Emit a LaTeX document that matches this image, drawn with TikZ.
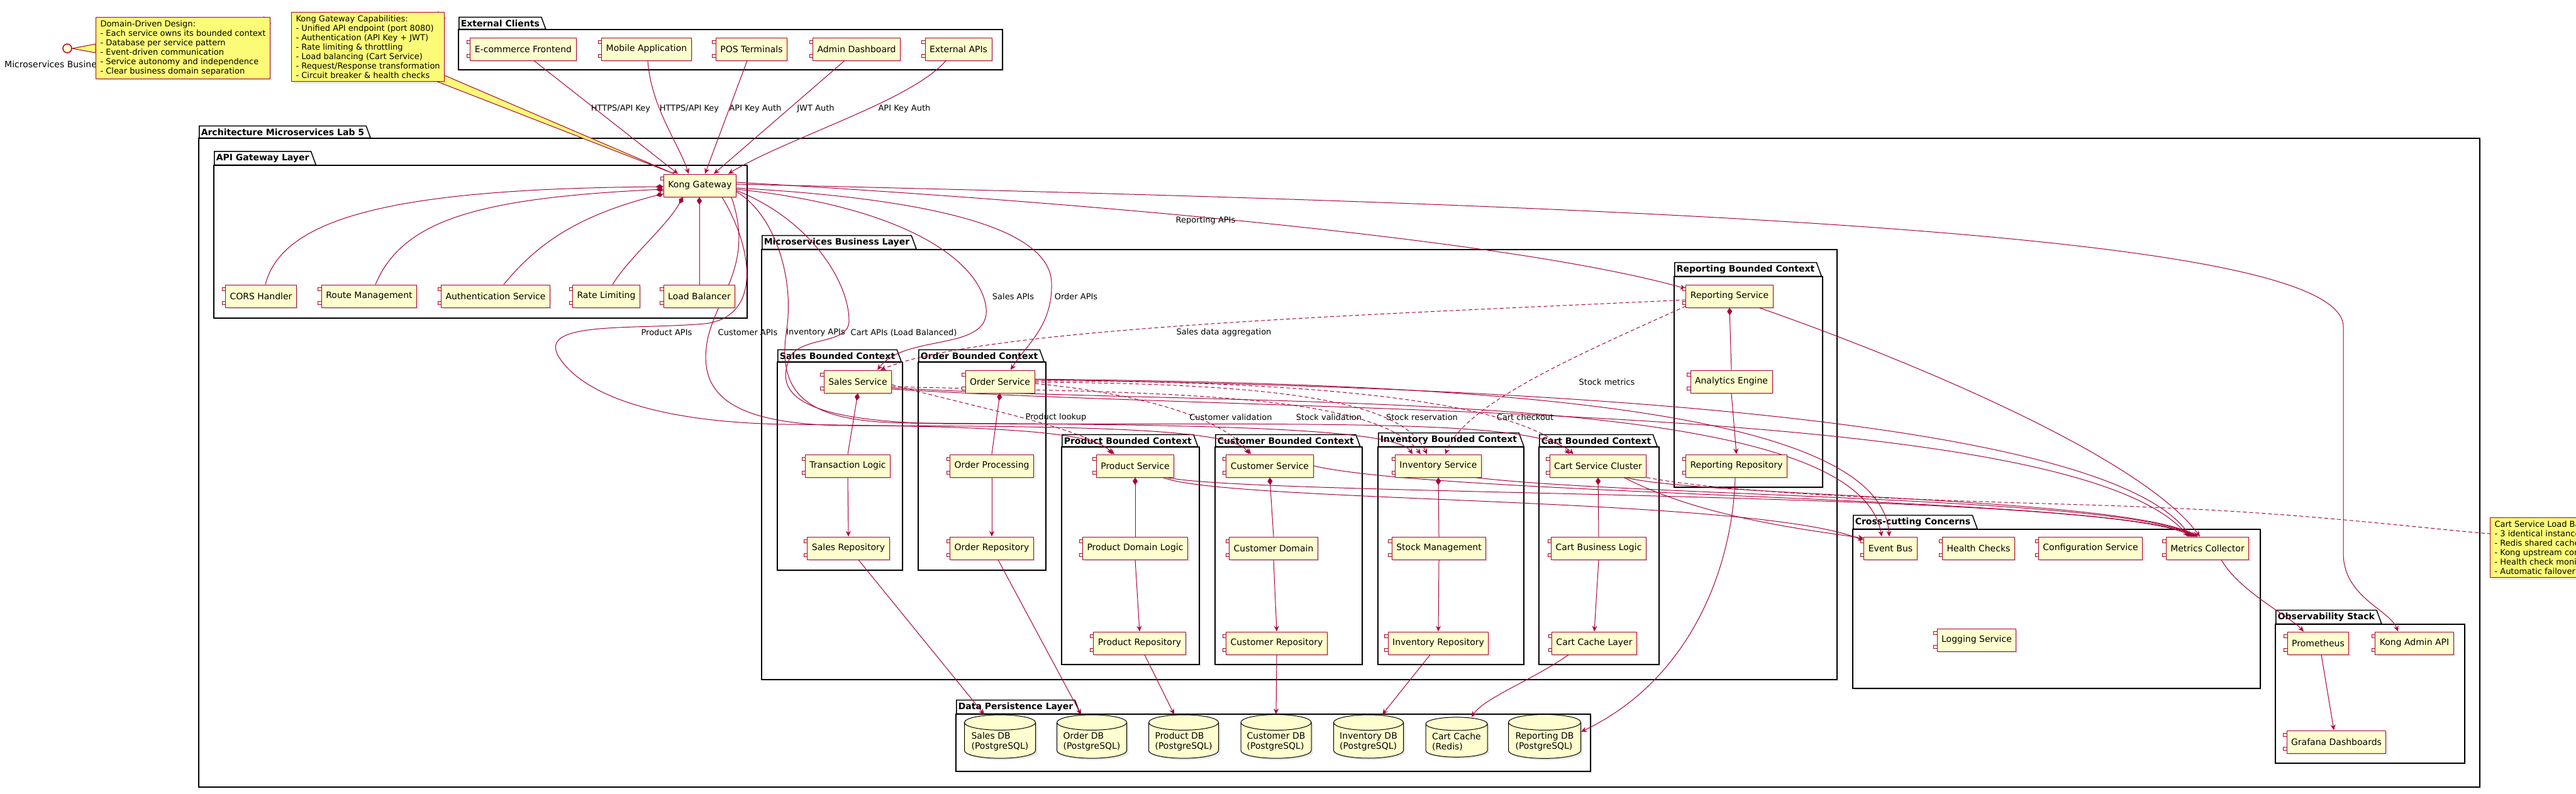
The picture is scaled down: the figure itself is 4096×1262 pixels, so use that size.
\documentclass[tikz,border=0pt]{standalone}
\usepackage{fontspec}
\setmainfont{DejaVu Sans}
\usetikzlibrary{arrows.meta,shapes.geometric,shadows}
\definecolor{umlred}{HTML}{A80036}
\definecolor{umlfill}{HTML}{FEFECE}
\definecolor{notefill}{HTML}{FBFB77}
\pgfdeclarelayer{pkglayer}
\pgfdeclarelayer{edgelayer}
\pgfsetlayers{pkglayer,edgelayer,main}

\begin{document}
\begin{tikzpicture}[x=1pt,y=-1pt]

		\tikzstyle{comp}=[draw=umlred,fill=umlfill,line width=1pt,minimum height=36pt,inner xsep=7pt,font=\fontsize{14pt}{16pt}\selectfont,drop shadow={shadow xshift=3pt,shadow yshift=-3pt,opacity=0.18},append after command={\pgfextra{\draw[draw=umlred,fill=umlfill,line width=0.8pt] ([xshift=-5pt,yshift=-5pt]\tikzlastnode.north west) rectangle ([xshift=5pt,yshift=-10pt]\tikzlastnode.north west) ([xshift=-5pt,yshift=5pt]\tikzlastnode.south west) rectangle ([xshift=5pt,yshift=10pt]\tikzlastnode.south west);}}]
		\tikzstyle{db}=[cylinder,shape border rotate=90,aspect=0.25,draw=black,fill=umlfill,line width=1pt,minimum height=61pt,align=left,font=\fontsize{14pt}{16pt}\selectfont,drop shadow={shadow xshift=3pt,shadow yshift=-3pt,opacity=0.18}]
		\tikzstyle{pkg}=[draw=black,fill=white,line width=1.5pt,drop shadow={shadow xshift=3pt,shadow yshift=-3pt,opacity=0.15}]
		\tikzstyle{pkgtab}=[trapezium,trapezium left angle=90,trapezium right angle=70,draw=black,fill=white,line width=1.5pt,inner xsep=3pt,inner ysep=4pt,anchor=bottom left corner,font=\fontsize{14pt}{16pt}\selectfont\bfseries]
		\tikzstyle{notebox}=[draw=umlred,fill=notefill,line width=1pt,align=left,inner xsep=7pt,inner ysep=5pt,anchor=north west,font=\fontsize{13pt}{15pt}\selectfont,drop shadow={shadow xshift=3pt,shadow yshift=-3pt,opacity=0.18},append after command={\pgfextra{\fill[white] ([xshift=-10pt,yshift=1pt]\tikzlastnode.north east) -- ([xshift=1pt,yshift=1pt]\tikzlastnode.north east) -- ([xshift=1pt,yshift=-10pt]\tikzlastnode.north east) -- cycle; \filldraw[fill=notefill,draw=umlred,line width=1pt] ([xshift=-10pt]\tikzlastnode.north east) -- ([xshift=-10pt,yshift=-10pt]\tikzlastnode.north east) -- ([yshift=-10pt]\tikzlastnode.north east) -- cycle;}}]
		\tikzstyle{lbl}=[inner sep=0pt,font=\fontsize{13pt}{15pt}\selectfont]
		\tikzstyle{flow}=[draw=umlred,line width=1pt,-{Stealth[length=9pt,width=8pt,inset=3pt]}]
		\tikzstyle{dep}=[flow,dash pattern=on 6pt off 4pt]
		\tikzstyle{owns}=[draw=umlred,line width=1pt,{Diamond[length=12pt,width=8pt]}-]
		\tikzstyle{noteline}=[draw=umlred,line width=1pt,dash pattern=on 6pt off 4pt]

		\useasboundingbox (0,0) rectangle (4096,1262);

		\begin{pgfonlayer}{pkglayer}
		\draw[pkg] (729,47) rectangle (1594,111);
		\node[pkgtab] (tclients) at (729,47) {External Clients};
		\draw[pkg] (316,220) rectangle (3943,1252);
		\node[pkgtab] (tarch) at (316,220) {Architecture Microservices Lab 5};
		\draw[pkg] (340,263) rectangle (1188,506);
		\node[pkgtab] (tgateway) at (340,263) {API Gateway Layer};
		\draw[pkg] (1211,397) rectangle (2921,1081);
		\node[pkgtab] (tbusiness) at (1211,397) {Microservices Business Layer};
		\draw[pkg] (1236,576) rectangle (1435,907);
		\node[pkgtab] (tsales) at (1236,576) {Sales Bounded Context};
		\draw[pkg] (1460,576) rectangle (1663,907);
		\node[pkgtab] (torder) at (1460,576) {Order Bounded Context};
		\draw[pkg] (1688,711) rectangle (1907,1057);
		\node[pkgtab] (tproduct) at (1688,711) {Product Bounded Context};
		\draw[pkg] (1932,711) rectangle (2166,1057);
		\node[pkgtab] (tcustomer) at (1932,711) {Customer Bounded Context};
		\draw[pkg] (2191,711) rectangle (2423,1057);
		\node[pkgtab] (tinventory) at (2191,711) {Inventory Bounded Context};
		\draw[pkg] (2447,711) rectangle (2638,1057);
		\node[pkgtab] (tcart) at (2447,711) {Cart Bounded Context};
		\draw[pkg] (2662,440) rectangle (2898,775);
		\node[pkgtab] (treporting) at (2662,440) {Reporting Bounded Context};
		\draw[pkg] (2946,842) rectangle (3594,1095);
		\node[pkgtab] (tcross) at (2946,842) {Cross-cutting Concerns};
		\draw[pkg] (3618,993) rectangle (3919,1214);
		\node[pkgtab] (tobs) at (3618,993) {Observability Stack};
		\draw[pkg] (1520,1136) rectangle (2529,1227);
		\node[pkgtab] (tdata) at (1520,1136) {Data Persistence Layer};
		\end{pgfonlayer}

		% clients and gateway
		\node[comp] (ecom) at (832,78) {E-commerce Frontend};
		\node[comp] (mobile) at (1028,78) {Mobile Application};
		\node[comp] (pos) at (1195,78) {POS Terminals};
		\node[comp] (admin) at (1362,78) {Admin Dashboard};
		\node[comp] (extapi) at (1524,78) {External APIs};
		\node[comp] (kong) at (1113,295) {Kong Gateway};
		\node[comp] (cors) at (415,471) {CORS Handler};
		\node[comp] (route) at (587,471) {Route Management};
		\node[comp] (auth) at (788,471) {Authentication Service};
		\node[comp] (rate) at (964,471) {Rate Limiting};
		\node[comp] (lb) at (1112,471) {Load Balancer};

		% bounded contexts
		\node[comp] (salessvc) at (1364,607) {Sales Service};
		\node[comp] (txn) at (1348,741) {Transaction Logic};
		\node[comp] (salesrepo) at (1349,872) {Sales Repository};
		\node[comp] (ordsvc) at (1590,607) {Order Service};
		\node[comp] (ordproc) at (1577,741) {Order Processing};
		\node[comp] (ordrepo) at (1577,872) {Order Repository};
		\node[comp] (prodsvc) at (1805,741) {Product Service};
		\node[comp] (proddom) at (1805,872) {Product Domain Logic};
		\node[comp] (prodrepo) at (1812,1023) {Product Repository};
		\node[comp] (custsvc) at (2019,741) {Customer Service};
		\node[comp] (custdom) at (2025,872) {Customer Domain};
		\node[comp] (custrepo) at (2030,1023) {Customer Repository};
		\node[comp] (invsvc) at (2287,741) {Inventory Service};
		\node[comp] (stock) at (2288,872) {Stock Management};
		\node[comp] (invrepo) at (2287,1023) {Inventory Repository};
		\node[comp] (cartsvc) at (2541,741) {Cart Service Cluster};
		\node[comp] (cartbl) at (2542,872) {Cart Business Logic};
		\node[comp] (cartcache) at (2535,1023) {Cart Cache Layer};
		\node[comp] (repsvc) at (2750,471) {Reporting Service};
		\node[comp] (analytics) at (2753,607) {Analytics Engine};
		\node[comp] (reprepo) at (2761,741) {Reporting Repository};

		% cross-cutting and observability
		\node[comp] (eventbus) at (3006,872) {Event Bus};
		\node[comp] (health) at (3146,872) {Health Checks};
		\node[comp] (config) at (3324,872) {Configuration Service};
		\node[comp] (metrics) at (3510,872) {Metrics Collector};
		\node[comp] (logging) at (3143,1018) {Logging Service};
		\node[comp] (prom) at (3686,1023) {Prometheus};
		\node[comp] (kongadmin) at (3839,1023) {Kong Admin API};
		\node[comp] (grafana) at (3715,1180) {Grafana Dashboards};

		% databases
		\node[db,minimum width=113pt] (salesdb) at (1590,1180) {Sales DB\\(PostgreSQL)};
		\node[db,minimum width=111pt] (orderdb) at (1736,1180) {Order DB\\(PostgreSQL)};
		\node[db,minimum width=111pt] (productdb) at (1882,1180) {Product DB\\(PostgreSQL)};
		\node[db,minimum width=112pt] (customerdb) at (2029,1180) {Customer DB\\(PostgreSQL)};
		\node[db,minimum width=111pt] (inventorydb) at (2176,1180) {Inventory DB\\(PostgreSQL)};
		\node[db,minimum width=98pt] (cartdb) at (2316,1180) {Cart Cache\\(Redis)};
		\node[db,minimum width=115pt] (reportingdb) at (2456,1180) {Reporting DB\\(PostgreSQL)};

		% notes
		\node[circle,draw=umlred,fill=umlfill,line width=1.5pt,minimum size=14pt,inner sep=0pt] (iface) at (107,77) {};
		\node[lbl,anchor=west,font=\fontsize{14pt}{16pt}\selectfont] (ifacelbl) at (7,102) {Microservices Busine};
		\filldraw[fill=notefill,draw=umlred,line width=1pt] (iface.east) -- (152,70) -- (152,84) -- cycle;
		\node[notebox] (dddnote) at (152,27) {Domain-Driven Design:\\- Each service owns its bounded context\\- Database per service pattern\\- Event-driven communication\\- Service autonomy and independence\\- Clear business domain separation};
		\node[notebox] (kongnote) at (463,19) {Kong Gateway Capabilities:\\- Unified API endpoint (port 8080)\\- Authentication (API Key + JWT)\\- Rate limiting \& throttling\\- Load balancing (Cart Service)\\- Request/Response transformation\\- Circuit breaker \& health checks};
		\node[notebox] (cartnote) at (3959,823) {Cart Service Load Balancing:\\- 3 identical instances\\- Redis shared cache\\- Kong upstream configuration\\- Health check monitoring\\- Automatic failover};

		\begin{pgfonlayer}{edgelayer}
		\filldraw[fill=notefill,draw=umlred,line width=1pt] ([xshift=-14pt,yshift=1pt]kongnote.south east) -- ([xshift=-41pt]kong.north) -- ([yshift=10pt]kongnote.south east) -- cycle;

		\draw[flow] ([xshift=17pt]ecom.south) -- ([xshift=-35pt]kong.north);
		\draw[flow] ([xshift=2pt]mobile.south) .. controls (1035,170) and (1080,230) .. ([xshift=-18pt]kong.north);
		\draw[flow] ([xshift=-7pt]pos.south) -- ([xshift=8pt]kong.north);
		\draw[flow] ([xshift=-19pt]admin.south) -- ([xshift=22pt]kong.north);
		\draw[flow] ([xshift=-20pt]extapi.south) .. controls (1450,160) and (1250,220) .. ([xshift=45pt]kong.north);

		\draw[owns] ([yshift=-2pt]kong.west) .. controls (650,300) and (450,340) .. ([xshift=7pt]cors.north);
		\draw[owns] ([yshift=-6pt]kong.west) .. controls (760,315) and (640,350) .. ([xshift=10pt]route.north);
		\draw[owns] ([yshift=-13pt]kong.west) .. controls (930,340) and (860,380) .. ([xshift=13pt]auth.north);
		\draw[owns] ([xshift=-27pt]kong.south) .. controls (1060,360) and (1000,410) .. ([xshift=10pt]rate.north);
		\draw[owns] ([xshift=-1pt]kong.south) -- (lb.north);

		\draw[flow] ([yshift=5pt]kong.east) .. controls (1700,320) and (2400,380) .. ([yshift=12pt]repsvc.west);
		\draw[flow] ([yshift=2pt]kong.east) .. controls (2800,330) and (3726,380) .. (3726,520) -- (3726,880) .. controls (3726,950) and (3800,970) .. ([xshift=-26pt]kongadmin.north);
		\draw[flow] ([yshift=-6pt]kong.east) .. controls (1450,330) and (1560,420) .. (1568,490) .. controls (1575,560) and (1440,530) .. ([xshift=31pt]salessvc.north);
		\draw[flow] ([yshift=-4pt]kong.east) .. controls (1550,320) and (1670,380) .. (1672,450) .. controls (1674,520) and (1630,550) .. ([xshift=17pt]ordsvc.north);
		\draw[flow] ([xshift=35pt]kong.south) .. controls (1200,400) and (1210,505) .. (1120,515) .. controls (1000,525) and (850,510) .. (890,570) .. controls (930,630) and (1050,672) .. (1250,675) .. controls (1500,678) and (1740,680) .. ([xshift=-37pt]prodsvc.north);
		\draw[flow] ([xshift=50pt]kong.south) .. controls (1200,420) and (1140,470) .. (1125,540) .. controls (1110,620) and (1150,676) .. (1350,677) .. controls (1700,678) and (1960,680) .. ([xshift=-33pt]custsvc.north);
		\draw[flow] ([yshift=-10pt]kong.east) .. controls (1230,340) and (1265,440) .. (1250,530) .. controls (1235,640) and (1300,672) .. (1450,673) .. controls (1900,675) and (2220,680) .. ([xshift=-41pt]invsvc.north);
		\draw[flow] ([yshift=-8pt]kong.east) .. controls (1290,350) and (1350,450) .. (1350,510) .. controls (1350,548) and (1280,535) .. (1258,565) .. controls (1225,630) and (1280,670) .. (1500,674) .. controls (2100,676) and (2440,665) .. ([xshift=-39pt]cartsvc.north);

		\draw[dep] ([yshift=-6pt]repsvc.west) .. controls (2200,500) and (1560,520) .. ([xshift=36pt]salessvc.north);
		\draw[dep] ([yshift=-16pt]repsvc.west) .. controls (2520,560) and (2330,640) .. ([xshift=11pt]invsvc.north);
		\draw[dep] ([yshift=-5pt]salessvc.east) .. controls (1560,650) and (1720,680) .. ([xshift=-33pt]prodsvc.north);
		\draw[dep] ([yshift=-3pt]ordsvc.east) .. controls (1800,625) and (1940,660) .. ([xshift=-30pt]custsvc.north);
		\draw[dep] ([yshift=-8pt]salessvc.east) .. controls (1800,625) and (2180,620) .. ([xshift=-28pt]invsvc.north);
		\draw[dep] ([yshift=-1pt]ordsvc.east) .. controls (2050,610) and (2230,640) .. ([xshift=-18pt]invsvc.north);
		\draw[dep] ([yshift=1pt]ordsvc.east) .. controls (2100,605) and (2420,640) .. ([xshift=-45pt]cartsvc.north);

		\draw[flow] ([yshift=-10pt]salessvc.east) .. controls (2000,650) and (2950,610) .. ([xshift=-14pt]eventbus.north);
		\draw[flow] ([yshift=-12pt]salessvc.east) .. controls (2100,660) and (3300,640) .. ([xshift=-30pt]metrics.north);
		\draw[flow] ([yshift=4pt]ordsvc.east) .. controls (2300,610) and (2990,640) .. ([xshift=-2pt]eventbus.north);
		\draw[flow] ([yshift=3pt]ordsvc.east) .. controls (2400,615) and (3350,660) .. ([xshift=-27pt]metrics.north);
		\draw[flow] ([xshift=44pt]prodsvc.south) .. controls (1950,800) and (2800,790) .. ([yshift=12pt]eventbus.west);
		\draw[flow] ([xshift=50pt]prodsvc.south) .. controls (2000,790) and (3350,780) .. ([xshift=-24pt]metrics.north);
		\draw[flow] (custsvc.east) .. controls (2300,790) and (3380,790) .. ([xshift=-21pt]metrics.north);
		\draw[flow] ([xshift=58pt]invsvc.south) .. controls (2600,790) and (3380,790) .. ([xshift=-18pt]metrics.north);
		\draw[flow] ([xshift=41pt]cartsvc.south) .. controls (2700,820) and (2850,840) .. ([yshift=16pt]eventbus.west);
		\draw[flow] ([xshift=44pt]cartsvc.south) .. controls (2700,790) and (3380,790) .. ([xshift=-15pt]metrics.north);
		\draw[flow] ([xshift=47pt]repsvc.south) .. controls (3000,560) and (3400,720) .. ([xshift=-12pt]metrics.north);
		\draw[noteline] (cartsvc.south east) .. controls (2800,795) and (3300,800) .. (3420,807) .. controls (3650,815) and (3850,840) .. ([yshift=22pt]cartnote.west);

		\draw[owns] (salessvc.south) -- (txn.north);
		\draw[flow] (txn.south) -- (salesrepo.north);
		\draw[owns] (ordsvc.south) -- (ordproc.north);
		\draw[flow] (ordproc.south) -- (ordrepo.north);
		\draw[owns] (prodsvc.south) -- (proddom.north);
		\draw[flow] (proddom.south) -- (prodrepo.north);
		\draw[owns] (custsvc.south) -- (custdom.north);
		\draw[flow] (custdom.south) -- (custrepo.north);
		\draw[owns] (invsvc.south) -- (stock.north);
		\draw[flow] (stock.south) -- (invrepo.north);
		\draw[owns] (cartsvc.south) -- (cartbl.north);
		\draw[flow] (cartbl.south) -- (cartcache.north);
		\draw[owns] (repsvc.south) -- (analytics.north);
		\draw[flow] (analytics.south) -- (reprepo.north);

		\draw[flow] ([xshift=16pt]salesrepo.south) -- ([xshift=-25pt]salesdb.north);
		\draw[flow] ([xshift=10pt]ordrepo.south) -- ([xshift=-17pt]orderdb.north);
		\draw[flow] ([xshift=8pt]prodrepo.south) -- ([xshift=-15pt]productdb.north);
		\draw[flow] (custrepo.south) -- (customerdb.north);
		\draw[flow] ([xshift=-13pt]invrepo.south) -- ([xshift=22pt]inventorydb.north);
		\draw[flow] ([xshift=-41pt]cartcache.south) .. controls (2440,1080) and (2360,1110) .. ([xshift=24pt]cartdb.north);
		\draw[flow] ([xshift=-2pt]reprepo.south) .. controls (2755,900) and (2690,1080) .. ([yshift=16pt]reportingdb.east);

		\draw[flow] ([xshift=22pt]metrics.south) .. controls (3560,940) and (3640,980) .. ([xshift=-23pt]prom.north);
		\draw[flow] ([xshift=5pt]prom.south) -- ([xshift=-4pt]grafana.north);
		\end{pgfonlayer}

		% connector labels
		\node[lbl] (l1) at (987,173) {HTTPS/API Key};
		\node[lbl] (l2) at (1096,173) {HTTPS/API Key};
		\node[lbl] (l3) at (1201,173) {API Key Auth};
		\node[lbl] (l4) at (1297,173) {JWT Auth};
		\node[lbl] (l5) at (1438,173) {API Key Auth};
		\node[lbl] (lreporting) at (1917,351) {Reporting APIs};
		\node[lbl] (lsales) at (1611,472) {Sales APIs};
		\node[lbl] (lorder) at (1711,472) {Order APIs};
		\node[lbl] (lproduct) at (1060,529) {Product APIs};
		\node[lbl] (lcustomer) at (1189,529) {Customer APIs};
		\node[lbl] (linventory) at (1297,529) {Inventory APIs};
		\node[lbl] (lcart) at (1437,529) {Cart APIs (Load Balanced)};
		\node[lbl] (laggr) at (1946,529) {Sales data aggregation};
		\node[lbl] (llookup) at (1679,664) {Product lookup};
		\node[lbl] (lcustval) at (1957,664) {Customer validation};
		\node[lbl] (lstockval) at (2113,664) {Stock validation};
		\node[lbl] (lstockres) at (2261,664) {Stock reservation};
		\node[lbl] (lcheckout) at (2425,664) {Cart checkout};
		\node[lbl] (lmetrics) at (2555,608) {Stock metrics};

\end{tikzpicture}
\end{document}
